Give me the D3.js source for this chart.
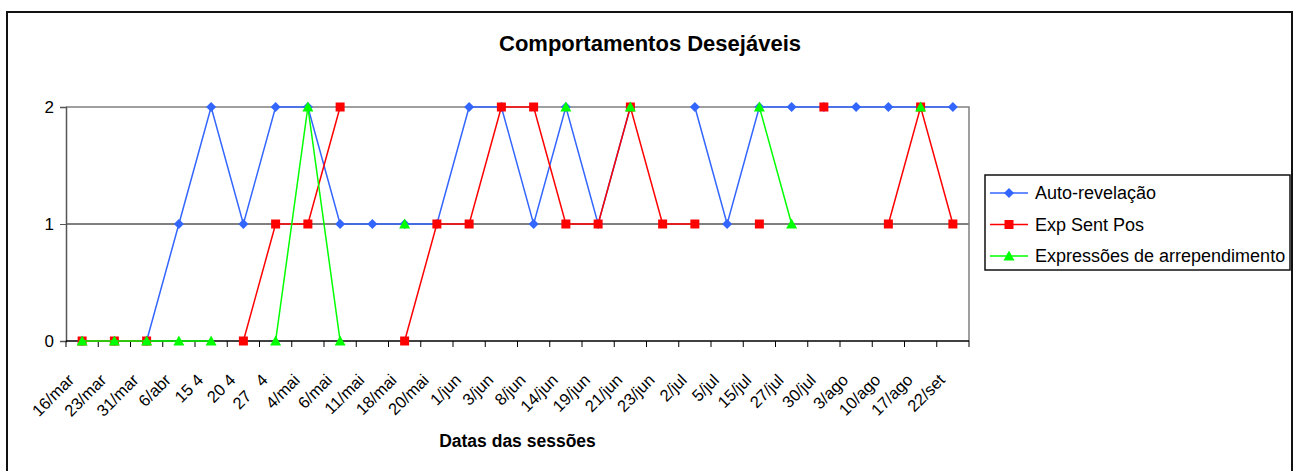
<!DOCTYPE html>
<html>
<head>
<meta charset="utf-8">
<script src="https://cdn.jsdelivr.net/npm/d3@7"></script>
<style>
  html, body { margin: 0; padding: 0; background: #fff; }
  svg { display: block; font-family: "Liberation Sans", Arial, sans-serif; }
</style>
</head>
<body>
<svg id="chart" width="1301" height="471"></svg>
<script>
// Session dates (x categories)
const categories = ["16/mar","23/mar","31/mar","6/abr","15 4","20 4","27   4","4/mai","6/mai","11/mai",
  "18/mai","20/mai","1/jun","3/jun","8/jun","14/jun","19/jun","21/jun","23/jun","2/jul",
  "5/jul","15/jul","27/jul","30/jul","3/ago","10/ago","17/ago","22/set"];

// Scores per session (null = not recorded)
const autoRevelacao = [0,0,0,1,2,1,2,2,1,1,1,1,2,2,1,2,1,2,null,2,1,2,2,2,2,2,2,2];
const expSentPos = [0,0,0,null,null,0,1,1,2,null,0,1,1,2,2,1,1,2,1,1,null,1,null,2,null,1,2,1];
const expressoesArrependimento = [0,0,0,0,0,null,0,2,0,null,1,null,null,null,null,2,null,2,null,null,null,2,1,null,null,null,2,null];

const yTicks = [0, 1, 2];

const series = [
  { name: "Auto-revelação", values: autoRevelacao, color: "#3366ff", marker: "diamond" },
  { name: "Exp Sent Pos", values: expSentPos, color: "#ff0000", marker: "square" },
  { name: "Expressões de arrependimento", values: expressoesArrependimento, color: "#00ff00", marker: "triangle" }
];

const svg = d3.select("#chart");

// Outer chart frame (open at the bottom edge)
svg.append("path")
  .attr("d", "M7,471 V12 H1292 V471")
  .attr("fill", "none").attr("stroke", "#111").attr("stroke-width", 2);

const plot = { left: 66, right: 969, top: 107, bottom: 341 };

const x = d3.scaleBand().domain(categories).range([plot.left, plot.right]).padding(0);
const y = d3.scaleLinear().domain([0, 2]).range([plot.bottom, plot.top]);

// Title
svg.append("text")
  .attr("x", 650).attr("y", 51)
  .attr("text-anchor", "middle")
  .attr("font-weight", "bold").attr("font-size", 22)
  .text("Comportamentos Desejáveis");

// Horizontal gridline at 1
svg.append("line")
  .attr("x1", plot.left).attr("x2", plot.right)
  .attr("y1", y(1)).attr("y2", y(1))
  .attr("stroke", "#000").attr("stroke-width", 1);

// Plot area border (top and right)
svg.append("path")
  .attr("d", `M${plot.left},${y(2)} H${plot.right} V${plot.bottom}`)
  .attr("fill", "none").attr("stroke", "#808080").attr("stroke-width", 1.5);

// Y axis
const yAxis = d3.axisLeft(y).tickValues(yTicks).tickFormat(d3.format("d")).tickSize(6).tickPadding(6);
const gy = svg.append("g").attr("transform", `translate(${plot.left},0)`).call(yAxis);
gy.select(".domain").attr("stroke", "#555").attr("stroke-width", 1.5);
gy.selectAll(".tick line").attr("stroke", "#555");
gy.selectAll(".tick text").attr("font-size", 17).attr("fill", "#000")
  .attr("font-family", "Liberation Sans, Arial, sans-serif");

// X axis: line, boundary ticks, rotated labels
const gx = svg.append("g");
gx.append("line")
  .attr("x1", plot.left).attr("x2", plot.right)
  .attr("y1", plot.bottom).attr("y2", plot.bottom)
  .attr("stroke", "#000").attr("stroke-width", 1.5);
const bounds = categories.map(c => x(c)).concat([plot.right]);
gx.selectAll("line.tk").data(bounds).join("line").attr("class", "tk")
  .attr("x1", d => d).attr("x2", d => d)
  .attr("y1", plot.bottom).attr("y2", plot.bottom + 6)
  .attr("stroke", "#000").attr("stroke-width", 1);
gx.selectAll("text.lbl").data(categories).join("text").attr("class", "lbl")
  .attr("transform", d => `translate(${x(d) + x.bandwidth() / 2 - 11},${plot.bottom + 36}) rotate(-45)`)
  .attr("text-anchor", "end")
  .attr("dy", "0.35em")
  .attr("font-size", 16.5)
  .style("white-space", "pre")
  .text(d => d);

// X axis title
svg.append("text")
  .attr("x", (plot.left + plot.right) / 2).attr("y", 447)
  .attr("text-anchor", "middle")
  .attr("font-weight", "bold").attr("font-size", 17.5)
  .text("Datas das sessões");

// Marker shapes
function markerPath(type) {
  if (type === "diamond") return "M0,-5 L5,0 L0,5 L-5,0 Z";
  if (type === "square") return "M-4.5,-4.5 H4.5 V4.5 H-4.5 Z";
  return "M0,-5.5 L5.5,4.5 L-5.5,4.5 Z";
}

const cx = i => x(categories[i]) + x.bandwidth() / 2;

series.forEach(s => {
  const pts = s.values.map((v, i) => ({ i, v }));
  const line = d3.line().defined(d => d.v !== null).x(d => cx(d.i)).y(d => y(d.v));
  svg.append("path").datum(pts)
    .attr("d", line)
    .attr("fill", "none").attr("stroke", s.color).attr("stroke-width", 1.5);
  svg.append("g").selectAll("path").data(pts.filter(d => d.v !== null)).join("path")
    .attr("transform", d => `translate(${cx(d.i)},${y(d.v)})`)
    .attr("d", markerPath(s.marker))
    .attr("fill", s.color);
});

// Legend
const lg = svg.append("g");
lg.append("rect")
  .attr("x", 985).attr("y", 175).attr("width", 305).attr("height", 95)
  .attr("fill", "#fff").attr("stroke", "#111").attr("stroke-width", 1.5);
series.forEach((s, k) => {
  const ly = 193 + k * 31.5;
  lg.append("line").attr("x1", 990).attr("x2", 1028).attr("y1", ly).attr("y2", ly)
    .attr("stroke", s.color).attr("stroke-width", 1.5);
  lg.append("path").attr("transform", `translate(1009,${ly})`)
    .attr("d", markerPath(s.marker)).attr("fill", s.color);
  lg.append("text").attr("x", 1035).attr("y", ly).attr("dy", "0.35em")
    .attr("font-size", 18).text(s.name);
});
</script>
</body>
</html>
